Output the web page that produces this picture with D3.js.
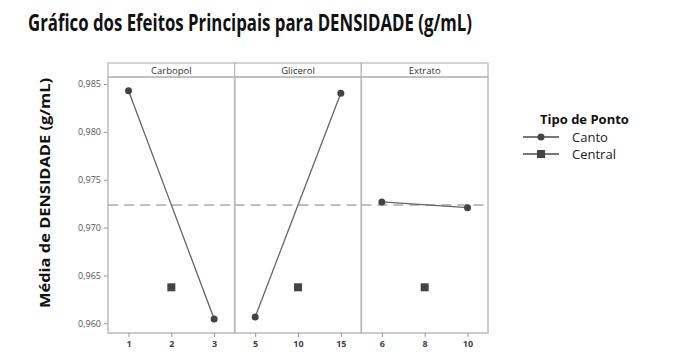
<!DOCTYPE html>
<html><head><meta charset="utf-8">
<script src="https://cdn.jsdelivr.net/npm/d3@7"></script>
<style>body{margin:0;background:#fff}svg{display:block}</style>
</head><body>
<script>
const factors = ["Carbopol", "Glicerol", "Extrato"];
const levels = [[1, 2, 3], [5, 10, 15], [6, 8, 10]];
const cornerValues = [[0.9843, 0.96045], [0.96066, 0.98404], [0.97268, 0.97208]];
const centerValues = [0.96376, 0.96376, 0.96376];
const yTicks = [0.960, 0.965, 0.970, 0.975, 0.980, 0.985];
const meanValue = 0.97236;
const legendItems = ["Canto", "Central"];

const W = 687, H = 355;
const svg = d3.select("body").append("svg").attr("width", W).attr("height", H);

const pLeft = 108, pRight = 488, pTop = 63, stripH = 14, pBottom = 333;
const plotTop = pTop + stripH;
const pw = (pRight - pLeft) / factors.length;
const y = d3.scaleLinear().domain([0.960, 0.985]).range([323.3, 84]);
const fmt = d => d3.format(".3f")(d).replace(".", ",");

// title
svg.append("text").attr("x", 28).attr("y", 31).attr("font-family", "Open Sans, sans-serif")
  .attr("font-weight", "bold").attr("font-size", 22.5).attr("fill", "#111")
  .attr("textLength", 444).attr("lengthAdjust", "spacingAndGlyphs")
  .text("Gráfico dos Efeitos Principais para DENSIDADE (g/mL)");

// y label
svg.append("text").attr("transform", "translate(50,193) rotate(-90)").attr("text-anchor", "middle")
  .attr("font-family", "Open Sans, sans-serif").attr("font-weight", "bold").attr("font-size", 15)
  .attr("fill", "#111").attr("textLength", 230).attr("lengthAdjust", "spacingAndGlyphs")
  .text("Média de DENSIDADE (g/mL)");

// y axis
const yAxis = svg.append("g").attr("transform", `translate(${pLeft},0)`)
  .call(d3.axisLeft(y).tickValues(yTicks).tickFormat(fmt).tickSize(4).tickPadding(3));
yAxis.select(".domain").remove();
yAxis.selectAll(".tick line").attr("stroke", "#999");
yAxis.selectAll(".tick text").attr("font-family", "Open Sans, sans-serif").attr("font-size", 9).attr("fill", "#555");

factors.forEach((f, i) => {
  const x0 = pLeft + i * pw, x1 = x0 + pw;
  const x = d3.scaleLinear().domain([levels[i][0], levels[i][2]]).range([x0 + 20.5, x1 - 20.5]);
  const g = svg.append("g");
  // strip
  g.append("rect").attr("x", x0).attr("y", pTop).attr("width", pw).attr("height", stripH)
    .attr("fill", "#fff").attr("stroke", "#bbb").attr("stroke-width", 1.3);
  g.append("text").attr("x", (x0 + x1) / 2).attr("y", pTop + 10.5).attr("text-anchor", "middle")
    .attr("font-family", "Open Sans, sans-serif").attr("font-size", 9.5).attr("fill", "#333").text(f);
  // panel
  g.append("rect").attr("x", x0).attr("y", plotTop).attr("width", pw).attr("height", pBottom - plotTop)
    .attr("fill", "none").attr("stroke", "#bbb").attr("stroke-width", 1.5);
  // x axis
  const xa = g.append("g").attr("transform", `translate(0,${pBottom})`)
    .call(d3.axisBottom(x).tickValues(levels[i]).tickFormat(d3.format("d")).tickSize(4).tickPadding(4));
  xa.select(".domain").remove();
  xa.selectAll(".tick line").attr("stroke", "#999");
  xa.selectAll(".tick text").attr("font-family", "Open Sans, sans-serif").attr("font-size", 9)
    .attr("font-weight", "bold").attr("fill", "#444");
  // mean line
  g.append("line").attr("x1", x0).attr("x2", x1).attr("y1", y(meanValue)).attr("y2", y(meanValue))
    .attr("stroke", "#aaa").attr("stroke-width", 1.3).attr("stroke-dasharray", "10,6");
  // corner line
  const pts = [[levels[i][0], cornerValues[i][0]], [levels[i][2], cornerValues[i][1]]];
  g.append("path").attr("d", d3.line().x(d => x(d[0])).y(d => y(d[1]))(pts))
    .attr("fill", "none").attr("stroke", "#666").attr("stroke-width", 1.3);
  g.selectAll("circle").data(pts).join("circle").attr("cx", d => x(d[0])).attr("cy", d => y(d[1]))
    .attr("r", 3.5).attr("fill", "#444");
  // center point
  g.append("rect").attr("x", x(levels[i][1]) - 4).attr("y", y(centerValues[i]) - 4)
    .attr("width", 8).attr("height", 8).attr("fill", "#444");
});

// legend
const lg = svg.append("g");
lg.append("text").attr("x", 540).attr("y", 124).attr("font-family", "Open Sans, sans-serif")
  .attr("font-weight", "bold").attr("font-size", 13).attr("fill", "#111").text("Tipo de Ponto");
legendItems.forEach((t, k) => {
  const yy = 137 + k * 17;
  lg.append("line").attr("x1", 523).attr("x2", 559).attr("y1", yy).attr("y2", yy)
    .attr("stroke", "#777").attr("stroke-width", 1.8);
  if (k === 0) lg.append("circle").attr("cx", 541).attr("cy", yy).attr("r", 3.5).attr("fill", "#444");
  else lg.append("rect").attr("x", 537).attr("y", yy - 4).attr("width", 8).attr("height", 8).attr("fill", "#444");
  lg.append("text").attr("x", 572).attr("y", yy + 5).attr("font-family", "Open Sans, sans-serif")
    .attr("font-size", 13).attr("fill", "#222").text(t);
});
</script>
</body></html>
